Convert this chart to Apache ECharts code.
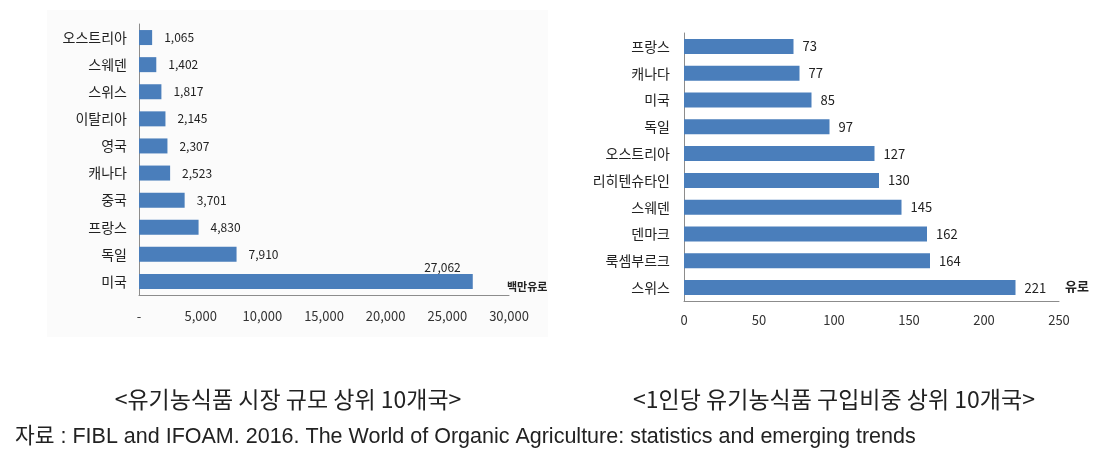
<!DOCTYPE html>
<html><head><meta charset="utf-8">
<script src="https://cdn.jsdelivr.net/npm/echarts@6/dist/echarts.min.js"></script>
<style>html,body{margin:0;padding:0;background:#fff}#c{width:1114px;height:468px}</style>
</head><body><div id="c"></div>
<script>
const leftCategories = ['오스트리아','스웨덴','스위스','이탈리아','영국','캐나다','중국','프랑스','독일','미국'];
const leftValues = [1065,1402,1817,2145,2307,2523,3701,4830,7910,27062];
const leftUnit = '백만유로';
const leftCaption = '<유기농식품 시장 규모 상위 10개국>';

const rightCategories = ['프랑스','캐나다','미국','독일','오스트리아','리히텐슈타인','스웨덴','덴마크','룩셈부르크','스위스'];
const rightValues = [73,77,85,97,127,130,145,162,164,221];
const rightUnit = '유로';
const rightCaption = '<1인당 유기농식품 구입비중 상위 10개국>';

const sourceText = '자료 : FIBL and IFOAM. 2016. The World of Organic Agriculture: statistics and emerging trends';

const fmt = v => String(v).replace(/\B(?=(\d{3})+(?!\d))/g, ',');
const KR = '"Noto Sans CJK KR", sans-serif';
const barColor = '#4a7ebb';
const axisColor = '#8c8c8c';

const chart = echarts.init(document.getElementById('c'), null, {renderer: 'canvas'});

const leftData = leftValues.map((v, i) => {
  if (i === leftValues.length - 1) {
    return {value: v, label: {position: ['100%', 0], align: 'right', verticalAlign: 'bottom', offset: [-12, -1]}};
  }
  return v;
});

chart.setOption({
  animation: false,
  backgroundColor: '#ffffff',
  graphic: [
    {type: 'rect', z: -10, shape: {x: 47, y: 10, width: 501, height: 327}, style: {fill: '#fbfbfb'}},
    {type: 'text', left: 507, top: 281, style: {text: leftUnit, font: 'bold 11px ' + KR, fill: '#222'}},
    {type: 'text', left: 1065, top: 280, style: {text: rightUnit, font: 'bold 13px ' + KR, fill: '#222'}},
    {type: 'text', x: 288, y: 399, style: {text: leftCaption, font: '23px ' + KR, fill: '#222', align: 'center', verticalAlign: 'middle'}},
    {type: 'text', x: 834, y: 399, style: {text: rightCaption, font: '23px ' + KR, fill: '#222', align: 'center', verticalAlign: 'middle'}},
    {type: 'text', x: 15, y: 437, style: {text: sourceText, font: '21.5px "Liberation Sans", ' + KR, fill: '#222', align: 'left', verticalAlign: 'middle'}}
  ],
  grid: [
    {left: 139, top: 24, width: 370, height: 271},
    {left: 684, top: 33, width: 375, height: 268}
  ],
  xAxis: [
    {gridIndex: 0, type: 'value', min: 0, max: 30000, interval: 5000,
     axisLine: {show: true, lineStyle: {color: axisColor}}, axisTick: {show: false}, splitLine: {show: false},
     axisLabel: {margin: 15, fontSize: 13, color: '#333', fontFamily: KR, formatter: v => v === 0 ? '-' : fmt(v)}},
    {gridIndex: 1, type: 'value', min: 0, max: 250, interval: 50,
     axisLine: {show: true, lineStyle: {color: axisColor}}, axisTick: {show: false}, splitLine: {show: false},
     axisLabel: {margin: 13, fontSize: 13, color: '#333', fontFamily: KR}}
  ],
  yAxis: [
    {gridIndex: 0, type: 'category', data: leftCategories, inverse: true,
     axisLine: {show: true, lineStyle: {color: axisColor}}, axisTick: {show: false},
     axisLabel: {margin: 12, fontSize: 14, color: '#222', fontFamily: KR}},
    {gridIndex: 1, type: 'category', data: rightCategories, inverse: true,
     axisLine: {show: true, lineStyle: {color: axisColor}}, axisTick: {show: false},
     axisLabel: {margin: 14, fontSize: 14, color: '#222', fontFamily: KR}}
  ],
  series: [
    {type: 'bar', xAxisIndex: 0, yAxisIndex: 0, data: leftData, barWidth: 15,
     itemStyle: {color: barColor},
     label: {show: true, position: 'right', distance: 12, fontSize: 12, color: '#222', fontFamily: KR, formatter: p => fmt(p.value)}},
    {type: 'bar', xAxisIndex: 1, yAxisIndex: 1, data: rightValues, barWidth: 15,
     itemStyle: {color: barColor},
     label: {show: true, position: 'right', distance: 9, fontSize: 13, color: '#222', fontFamily: KR}}
  ]
});
</script></body></html>
